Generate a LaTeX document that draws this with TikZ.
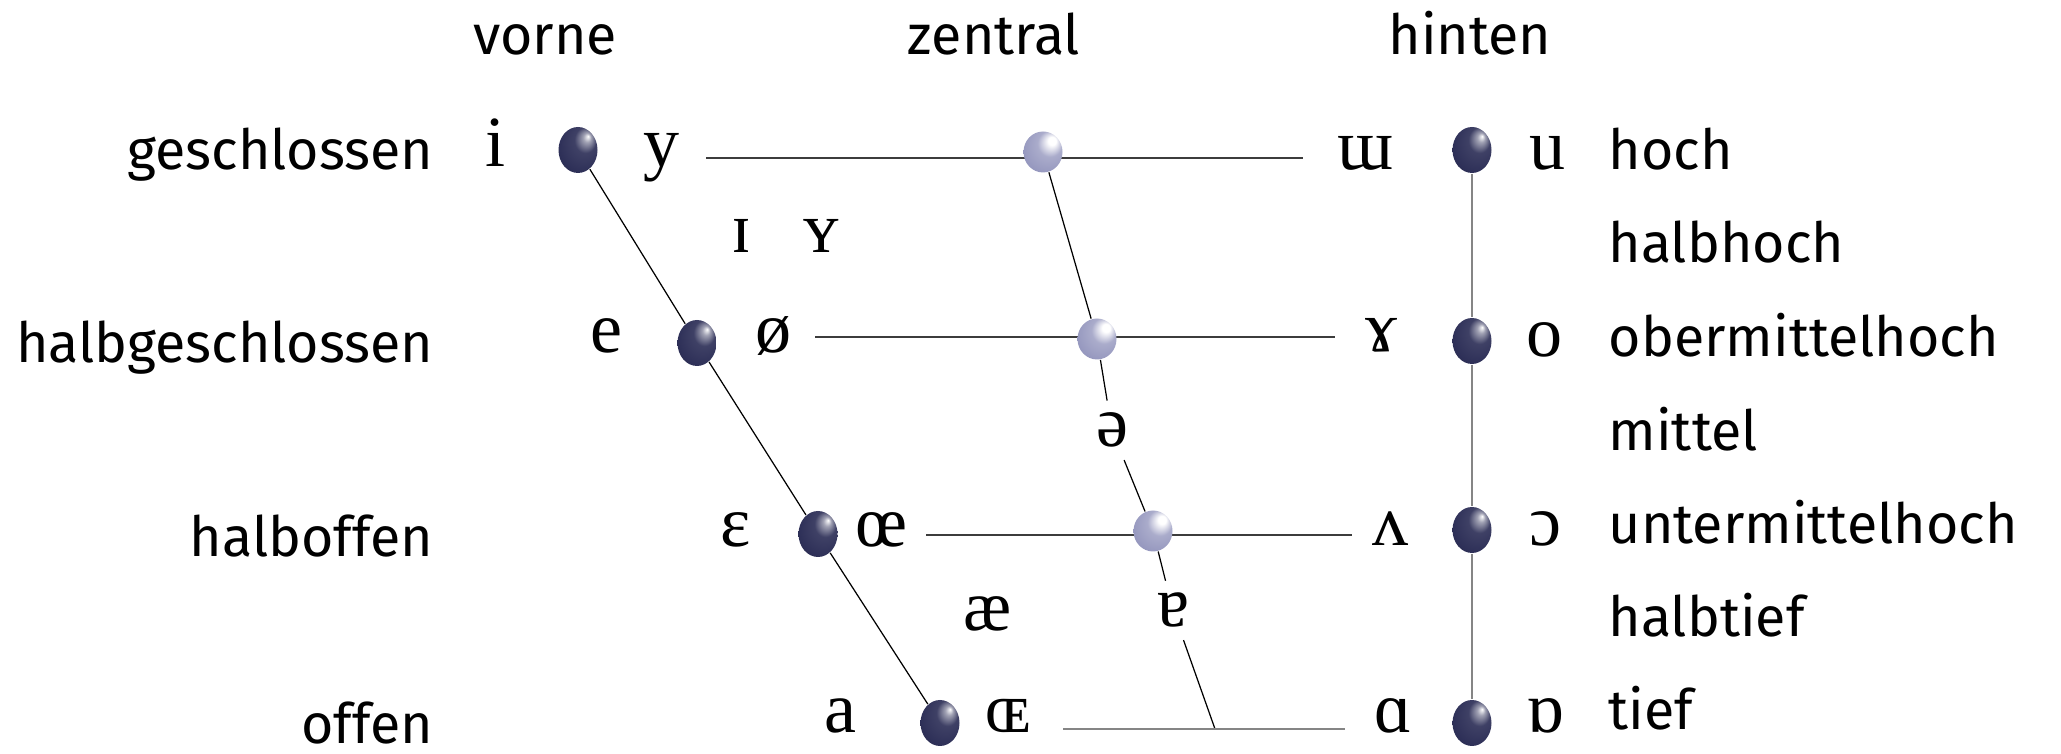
\documentclass[tikz,border=0pt]{standalone}
\usepackage{fontspec}
\setmainfont{Fira Sans}
\newfontfamily\ipafont{Liberation Serif}
\usepackage{tikz}
\usetikzlibrary{backgrounds,shapes.geometric}
\definecolor{vwInk}{HTML}{000000}
\definecolor{vwDark}{HTML}{2E3058}
\definecolor{vwLight}{HTML}{9597BE}
\definecolor{vwLine}{HTML}{3C3C3C}
\definecolor{vwGrey}{HTML}{858585}
\pgfdeclareradialshading{vwdarkball}{\pgfpoint{13bp}{15bp}}{color(0bp)=(white); color(5bp)=(vwDark!45!white); color(14bp)=(vwDark!92!white); color(30bp)=(vwDark); color(50bp)=(vwDark!60!black)}
\pgfdeclareradialshading{vwlightball}{\pgfpoint{13bp}{15bp}}{color(0bp)=(white); color(5bp)=(white); color(16bp)=(vwLight!80!white); color(32bp)=(vwLight); color(50bp)=(vwLight!70!black)}
\tikzset{
  vw diagram/.style={font=\fontsize{15.8}{19}\selectfont, text=vwInk,
    line cap=round, line join=round},
  vw head/.style={anchor=base},
  vw row/.style={anchor=base east, inner sep=0pt},
  vw height/.style={anchor=base west, inner sep=0pt},
  vw ipa/.style={anchor=base, font=\ipafont\fontsize{20.5}{24}\selectfont},
  vw ball/.style={ellipse, inner sep=0pt, minimum width=0.39cm,
    minimum height=0.46cm, shading=vwdarkball},
  vw ball central/.style={vw ball, minimum height=0.41cm, shading=vwlightball},
  vw edge/.style={draw=vwInk, line width=0.35pt},
  vw level/.style={draw=vwLine, line width=0.6pt},
  vw back/.style={draw=vwGrey, line width=0.6pt}
}
\begin{document}
\begin{tikzpicture}[vw diagram]
\useasboundingbox (0,0) rectangle (20.61,7.54);
\node[vw head] (front) at (5.45,6.99) {vorne};
\node[vw head] (central) at (9.94,6.99) {zentral};
\node[vw head] (back) at (14.70,6.99) {hinten};
\node[vw row] (close) at (4.34,5.84) {geschlossen};
\node[vw row] (closemid) at (4.34,3.91) {halbgeschlossen};
\node[vw row] (openmid) at (4.34,1.97) {halboffen};
\node[vw row] (open) at (4.34,0.10) {offen};
\foreach \name/\y/\txt in {high/5.84/hoch, halfhigh/4.91/halbhoch,
    uppermid/3.97/obermittelhoch, mid/3.03/mittel,
    lowermid/2.10/untermittelhoch, halflow/1.17/halbtief, low/0.24/tief}
  \node[vw height] (\name) at (16.08,\y) {\txt};
% Vokalpunkte
\node[vw ball] (f1) at (5.78,6.04) {};
\node[vw ball] (f2) at (6.97,4.11) {};
\node[vw ball] (f3) at (8.18,2.20) {};
\node[vw ball] (f4) at (9.40,0.31) {};
\node[vw ball central] (c1) at (10.43,6.02) {};
\node[vw ball central] (c2) at (10.97,4.15) {};
\node[vw ball central] (c3) at (11.53,2.23) {};
\node[vw ball] (b1) at (14.72,6.04) {};
\node[vw ball] (b2) at (14.72,4.13) {};
\node[vw ball] (b3) at (14.72,2.24) {};
\node[vw ball] (b4) at (14.72,0.31) {};
% IPA
\node[vw ipa] (i) at (4.96,5.87) {i};
\node[vw ipa] (y) at (6.62,5.87) {y};
\node[vw ipa] (ww) at (13.66,5.84) {ɯ};
\node[vw ipa] (u) at (15.47,5.84) {u};
\node[vw ipa] (smalli) at (7.41,5.01) {ɪ};
\node[vw ipa] (smally) at (8.21,5.01) {ʏ};
\node[vw ipa] (e) at (6.06,4.01) {e};
\node[vw ipa] (oslash) at (7.74,4.01) {ø};
\node[vw ipa] (ramshorn) at (13.81,4.02) {ɤ};
\node[vw ipa] (o) at (15.44,3.97) {o};
\node[vw ipa] (schwa) at (11.12,3.07) {ə};
\node[vw ipa] (eps) at (7.36,2.07) {ɛ};
\node[vw ipa] (oe) at (8.82,2.07) {œ};
\node[vw ipa] (wedge) at (13.90,2.08) {ʌ};
\node[vw ipa] (openo) at (15.45,2.08) {ɔ};
\node[vw ipa] (ae) at (9.88,1.23) {æ};
\node[vw ipa] (turna) at (11.73,1.27) {ɐ};
\node[vw ipa] (a) at (8.40,0.21) {a};
\node[vw ipa] (smalloe) at (10.08,0.21) {ɶ};
\node[vw ipa] (alpha) at (13.93,0.21) {ɑ};
\node[vw ipa] (turnalpha) at (15.45,0.21) {ɒ};
\coordinate (r1w) at (7.06,5.96);
\coordinate (r1e) at (13.03,5.96);
\coordinate (r2w) at (8.15,4.17);
\coordinate (r2e) at (13.35,4.17);
\coordinate (r3w) at (9.26,2.19);
\coordinate (r3e) at (13.52,2.19);
\coordinate (r4w) at (10.63,0.25);
\coordinate (r4e) at (13.45,0.25);
\coordinate (cbot) at (12.15,0.25);
\begin{scope}[on background layer]
\draw[vw edge] (f1) -- (f2) -- (f3) -- (f4);
\draw[vw edge] (c1) -- (c2) -- (schwa) -- (c3) -- (turna) -- (cbot);
\draw[vw back] (b1) -- (b2) -- (b3) -- (b4);
\draw[vw level] (r1w) -- (r1e);
\draw[vw level] (r2w) -- (r2e);
\draw[vw level] (r3w) -- (r3e);
\draw[vw back, line width=0.8pt] (r4w) -- (r4e);
\end{scope}
\end{tikzpicture}
\end{document}
